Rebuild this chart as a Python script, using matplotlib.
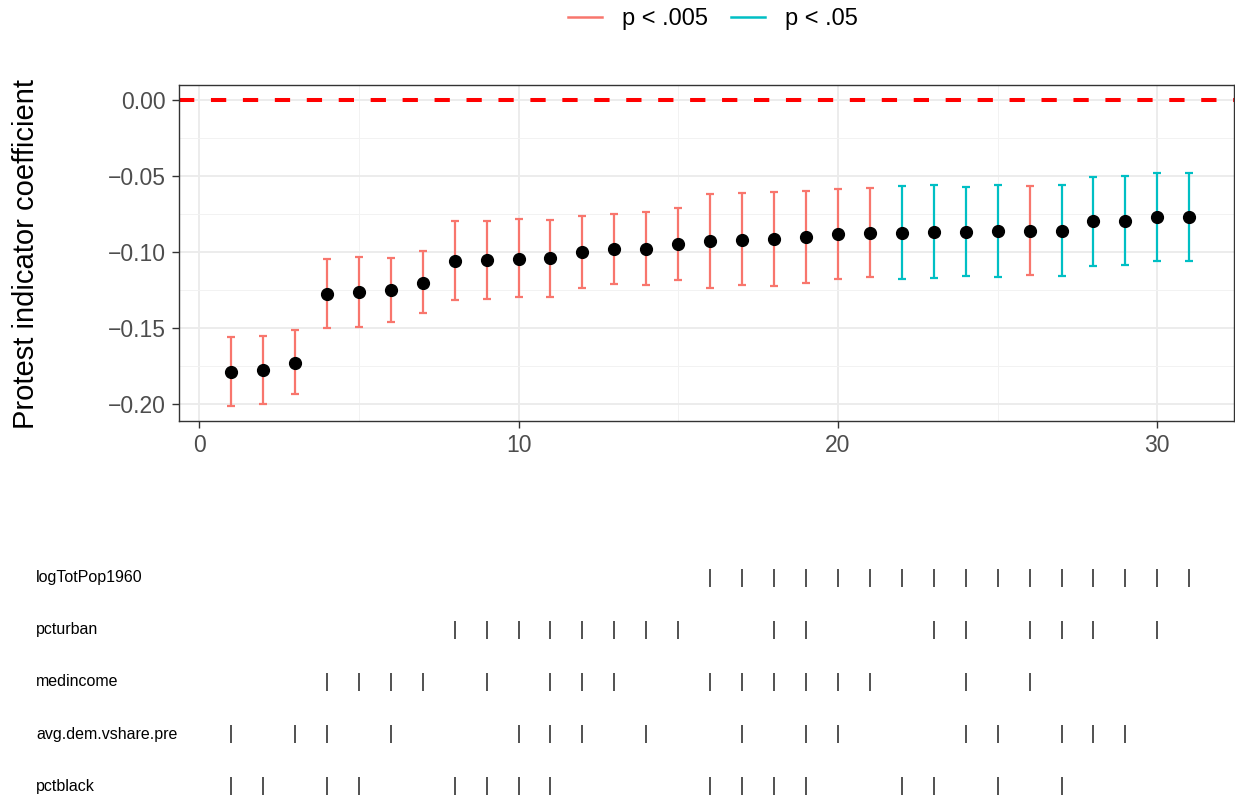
import numpy as np
import matplotlib
matplotlib.use("Agg")
import matplotlib.pyplot as plt
from matplotlib.lines import Line2D
import matplotlib.transforms as mtransforms

plt.rcParams['font.family'] = ['Liberation Sans', 'DejaVu Sans']
plt.rcParams['lines.scale_dashes'] = False

# model index (specifications sorted by estimate)
model = np.arange(1, 32)

estimate = [-0.179, -0.178, -0.1728, -0.1276, -0.1263, -0.125, -0.1202, -0.1057,
            -0.1055, -0.1044, -0.1042, -0.1002, -0.0982, -0.0978, -0.0947, -0.0928,
            -0.0919, -0.0917, -0.0901, -0.0882, -0.0873, -0.0873, -0.0868, -0.0866,
            -0.0864, -0.086, -0.086, -0.0798, -0.0796, -0.0772, -0.077]
ci_upper = [-0.156, -0.155, -0.1515, -0.1046, -0.1035, -0.1042, -0.0996, -0.0796,
            -0.0798, -0.0785, -0.0789, -0.0763, -0.0752, -0.0734, -0.0708, -0.0621,
            -0.0614, -0.0607, -0.0599, -0.0586, -0.0581, -0.0566, -0.0561, -0.0572,
            -0.0561, -0.0568, -0.0557, -0.0507, -0.0502, -0.0482, -0.048]
ci_lower = [-0.2013, -0.2004, -0.1937, -0.1502, -0.1491, -0.1458, -0.1404, -0.1316,
            -0.1309, -0.1298, -0.1294, -0.1239, -0.1211, -0.122, -0.1184, -0.1234,
            -0.122, -0.1226, -0.1204, -0.1178, -0.1162, -0.1178, -0.1173, -0.116,
            -0.1164, -0.1151, -0.116, -0.1092, -0.1088, -0.1061, -0.1061]
signif = ['p < .005'] * 21 + ['p < .05'] * 4 + ['p < .005'] + ['p < .05'] * 5

# which covariates are included in each model
covariates = ['logTotPop1960', 'pcturban', 'medincome', 'avg.dem.vshare.pre', 'pctblack']
inc_logTotPop1960 = [16, 17, 18, 19, 20, 21, 22, 23, 24, 25, 26, 27, 28, 29, 30, 31]
inc_pcturban = [8, 9, 10, 11, 12, 13, 14, 15, 18, 19, 23, 24, 26, 27, 28, 30]
inc_medincome = [4, 5, 6, 7, 9, 11, 12, 13, 16, 17, 18, 19, 20, 21, 24, 26]
inc_avgdem = [1, 3, 4, 6, 10, 11, 12, 14, 17, 19, 20, 24, 25, 27, 28, 29]
inc_pctblack = [1, 2, 4, 5, 8, 9, 10, 11, 16, 17, 18, 19, 22, 23, 25, 27]
included = [inc_logTotPop1960, inc_pcturban, inc_medincome, inc_avgdem, inc_pctblack]

colors = {'p < .005': '#F8766D', 'p < .05': '#00BFC4'}

W, H = 1235, 795
fig = plt.figure(figsize=(W / 100, H / 100), dpi=100)

ax = fig.add_axes([179 / W, 1 - 421 / H, 1055 / W, 336 / H])
ax.set_xlim(-0.63, 32.4)
ax.set_ylim(-0.2113, 0.0100)

ax.set_xticks([0, 10, 20, 30])
ax.set_xticks([5, 15, 25], minor=True)
ax.set_yticks([-0.20, -0.15, -0.10, -0.05, 0.00])
ax.set_yticks([-0.175, -0.125, -0.075, -0.025], minor=True)
ax.set_yticklabels(['\u22120.20', '\u22120.15', '\u22120.10', '\u22120.05', '0.00'])
ax.grid(True, which='major', color='#EBEBEB', linewidth=1.3)
ax.grid(True, which='minor', color='#F2F2F2', linewidth=0.7)
ax.set_axisbelow(True)
ax.tick_params(which='major', length=5, width=1.0, color='#333333',
               labelsize=16.5, labelcolor='#4D4D4D', pad=4.5)
ax.tick_params(which='minor', length=0)
for sp in ax.spines.values():
    sp.set_color('#333333')
    sp.set_linewidth(1.0)

ax.axhline(0, color='#FF0000', linewidth=2.9, dashes=(11, 12), zorder=2)

for m, e, lo, hi, s in zip(model, estimate, ci_lower, ci_upper, signif):
    ax.errorbar([m], [e], yerr=[[e - lo], [hi - e]], fmt='none', ecolor=colors[s],
                elinewidth=1.6, capsize=2.9, capthick=1.6, zorder=3)
ax.plot(model, estimate, 'o', color='black', markersize=8.5, zorder=4)

fig.text(26 / W, 1 - 254 / H, 'Protest indicator coefficient', rotation=90,
         ha='center', va='center', fontsize=21, color='black')

handles = [Line2D([], [], color=colors[k], linewidth=1.8) for k in ['p < .005', 'p < .05']]
fig.legend(handles, ['p < .005', 'p < .05'], loc='center', bbox_to_anchor=(713 / W, 1 - 19 / H),
           ncol=2, frameon=False, fontsize=17, handlelength=1.45, handletextpad=0.85,
           columnspacing=0.95)

# covariate inclusion panel
ax2 = fig.add_axes([179 / W, 0, 1055 / W, 235 / H])
ax2.set_xlim(-0.63, 32.4)
ax2.set_ylim(0.827, 5.346)
ax2.axis('off')
trans = mtransforms.blended_transform_factory(fig.transFigure, ax2.transData)
for i, (name, inc) in enumerate(zip(covariates, included)):
    row = 5 - i
    ax2.plot(inc, [row] * len(inc), linestyle='none', marker='|', markersize=12.5,
             markeredgewidth=1.1, color='#222222')
    ax2.text(36 / W, row, name, transform=trans, ha='left', va='center',
             fontsize=11.5, color='black')

fig.savefig('out.png', dpi=100)
